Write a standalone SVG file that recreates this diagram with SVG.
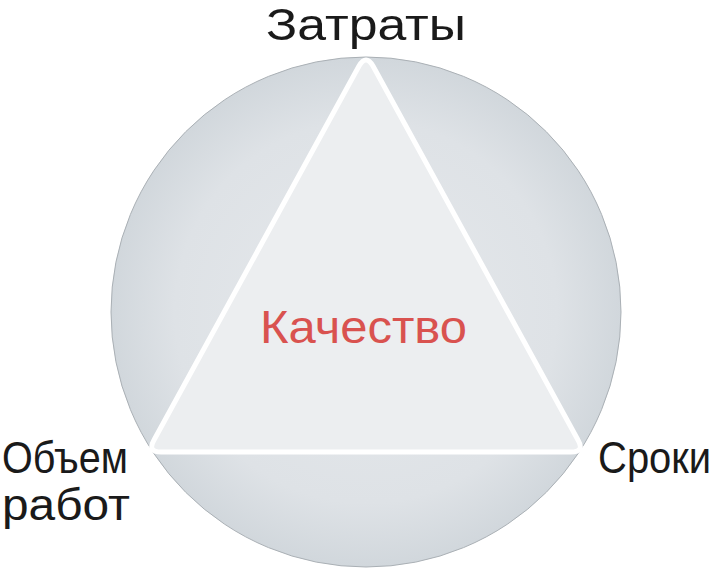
<svg xmlns="http://www.w3.org/2000/svg" width="718" height="569" viewBox="0 0 718 569">
  <defs>
    <radialGradient id="cg" cx="50%" cy="50%" r="50%">
      <stop offset="0" stop-color="#e6e9ec"/>
      <stop offset="0.75" stop-color="#dee2e6"/>
      <stop offset="1" stop-color="#d1d7dc"/>
    </radialGradient>
    <style>
      .lbl { font-family: "Liberation Sans", "DejaVu Sans", sans-serif; font-size: 45px; fill: #1a1a1a; }
      .center { font-family: "Liberation Sans", "DejaVu Sans", sans-serif; font-size: 46px; fill: #d9524f; }
    </style>
  </defs>
  <rect width="718" height="569" fill="#ffffff"/>
  <g id="circle">
    <circle cx="366" cy="312" r="255" fill="url(#cg)" stroke="#aab0b5" stroke-width="1"/>
  </g>
  <g id="connectors">
    <path d="M 359 66 Q 366 54 373 66 L 578 440 Q 585 452 571 452 L 161 452 Q 147 452 154 440 Z" fill="#eceef0" stroke="#ffffff" stroke-width="5" stroke-linejoin="round"/>
  </g>
  <g id="node-costs">
    <text class="lbl" x="366" y="40" text-anchor="middle" textLength="200" lengthAdjust="spacingAndGlyphs">Затраты</text>
  </g>
  <g id="node-scope">
    <text class="lbl" x="2" y="473" textLength="126" lengthAdjust="spacingAndGlyphs">Объем</text>
    <text class="lbl" x="2" y="520" textLength="128" lengthAdjust="spacingAndGlyphs">работ</text>
  </g>
  <g id="node-time">
    <text class="lbl" x="0" y="0" transform="translate(598,473) scale(1,1.12)" style="font-size:40px">Сроки</text>
  </g>
  <g id="node-quality">
    <text class="center" x="260" y="343" textLength="207" lengthAdjust="spacingAndGlyphs">Качество</text>
  </g>
</svg>
